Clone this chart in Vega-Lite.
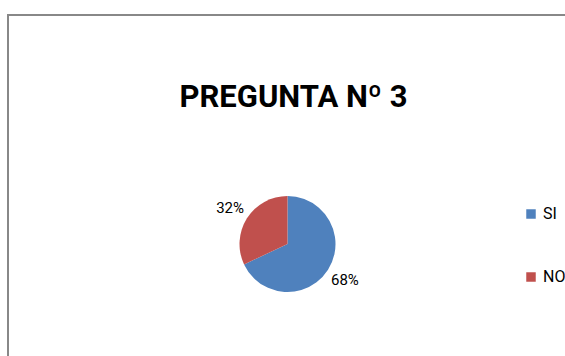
{
  "$schema": "https://vega.github.io/schema/vega-lite/v6.json",
  "width": 559,
  "height": 458,
  "autosize": {"type": "none"},
  "padding": {"left": 8, "top": 15, "right": -2, "bottom": -117},
  "background": "white",
  "view": {"stroke": "#888888", "strokeWidth": 2},
  "config": {
    "view": {"stroke": "#888888", "strokeWidth": 2},
    "font": "Roboto, sans-serif"
  },
  "title": {
    "text": "PREGUNTA Nº 3",
    "anchor": "middle",
    "frame": "group",
    "orient": "top",
    "baseline": "alphabetic",
    "font": "Roboto",
    "fontSize": 31,
    "fontWeight": "bold",
    "color": "#000000",
    "dx": 6,
    "dy": 127
  },
  "data": {
    "values": [
      {"respuesta": "SI", "proporcion": 0.68},
      {"respuesta": "NO", "proporcion": 0.32}
    ]
  },
  "encoding": {
    "theta": {"field": "proporcion", "type": "quantitative", "stack": true},
    "order": {"field": "proporcion", "type": "quantitative", "sort": "descending"},
    "color": {
      "field": "respuesta",
      "type": "nominal",
      "scale": {"domain": ["SI", "NO"], "range": ["#4F81BD", "#C0504D"]},
      "legend": {
        "title": null,
        "orient": "none",
        "legendX": 515,
        "legendY": 191,
        "symbolType": "square",
        "symbolSize": 90,
        "symbolStrokeWidth": 0,
        "labelFontSize": 16,
        "labelColor": "#000000",
        "labelFont": "Roboto",
        "rowPadding": 47,
        "labelOffset": 4
      }
    }
  },
  "layer": [
    {"mark": {"type": "arc", "outerRadius": 48, "stroke": null}},
    {
      "mark": {"type": "text", "radius": 68, "fontSize": 15, "font": "Roboto"},
      "encoding": {
        "text": {"field": "proporcion", "type": "quantitative", "format": ".0%"},
        "color": {"value": "#000000"}
      }
    }
  ]
}
